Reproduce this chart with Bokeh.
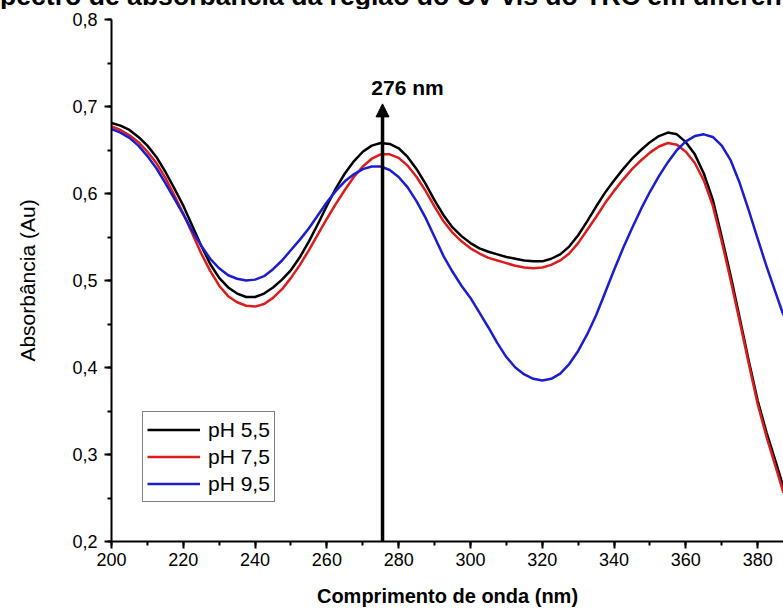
from bokeh.plotting import figure
from bokeh.layouts import column
from bokeh.models import (Range1d, SingleIntervalTicker, CustomJSTickFormatter, Label,
                          Arrow, NormalHead, Legend, LegendItem, Div)
from bokeh.embed import file_html
from bokeh.resources import INLINE

# ---- data ----
wavelength = [200, 202.5, 205, 207.5, 210, 212.5, 215, 217.5, 220, 222.5, 225, 227.5,
              230, 232.5, 235, 237.5, 240, 242.5, 245, 247.5, 250, 252.5, 255, 257.5,
              260, 262.5, 265, 267.5, 270, 272.5, 275, 277.5, 280, 282.5, 285, 287.5,
              290, 292.5, 295, 297.5, 300, 302.5, 305, 307.5, 310, 312.5, 315, 317.5,
              320, 322.5, 325, 327.5, 330, 332.5, 335, 337.5, 340, 342.5, 345, 347.5,
              350, 352.5, 355, 357.5, 360, 362.5, 365, 367.5, 370, 372.5, 375, 377.5,
              380, 382.5, 385, 387.2]

abs_ph55 = [0.681, 0.678, 0.673, 0.665, 0.655, 0.642, 0.625, 0.606, 0.586, 0.563, 0.540, 0.519,
            0.503, 0.492, 0.485, 0.481, 0.481, 0.485, 0.492, 0.501, 0.512, 0.527, 0.545, 0.565,
            0.586, 0.606, 0.623, 0.637, 0.648, 0.655, 0.658, 0.657, 0.652, 0.642, 0.628, 0.611,
            0.592, 0.575, 0.561, 0.551, 0.543, 0.537, 0.533, 0.530, 0.527, 0.525, 0.523, 0.522,
            0.522, 0.525, 0.530, 0.539, 0.552, 0.568, 0.585, 0.601, 0.615, 0.628, 0.640, 0.650,
            0.659, 0.666, 0.670, 0.668, 0.659, 0.645, 0.623, 0.593, 0.550, 0.505, 0.457, 0.408,
            0.362, 0.325, 0.292, 0.262]

abs_ph75 = [0.677, 0.673, 0.667, 0.659, 0.648, 0.635, 0.618, 0.598, 0.577, 0.554, 0.531, 0.511,
            0.494, 0.482, 0.475, 0.471, 0.470, 0.473, 0.480, 0.490, 0.503, 0.518, 0.535, 0.553,
            0.571, 0.588, 0.604, 0.619, 0.631, 0.640, 0.645, 0.645, 0.641, 0.632, 0.619, 0.603,
            0.585, 0.568, 0.555, 0.545, 0.537, 0.531, 0.526, 0.523, 0.520, 0.517, 0.515, 0.514,
            0.515, 0.518, 0.523, 0.531, 0.543, 0.558, 0.573, 0.589, 0.603, 0.616, 0.628, 0.638,
            0.647, 0.654, 0.658, 0.656, 0.648, 0.635, 0.615, 0.586, 0.545, 0.500, 0.453, 0.405,
            0.358, 0.320, 0.286, 0.256]

abs_ph95 = [0.674, 0.670, 0.664, 0.655, 0.643, 0.629, 0.612, 0.594, 0.576, 0.557, 0.540, 0.525,
            0.514, 0.506, 0.502, 0.500, 0.501, 0.505, 0.513, 0.523, 0.535, 0.547, 0.560, 0.575,
            0.590, 0.603, 0.614, 0.622, 0.628, 0.631, 0.631, 0.627, 0.619, 0.607, 0.591, 0.572,
            0.550, 0.528, 0.510, 0.494, 0.480, 0.463, 0.446, 0.428, 0.412, 0.400, 0.392, 0.387,
            0.385, 0.387, 0.393, 0.404, 0.419, 0.438, 0.460, 0.486, 0.512, 0.537, 0.560, 0.582,
            0.602, 0.620, 0.636, 0.650, 0.660, 0.666, 0.668, 0.665, 0.655, 0.638, 0.612, 0.581,
            0.548, 0.516, 0.486, 0.460]

series_labels = ["pH 5,5", "pH 7,5", "pH 9,5"]
series_colors = ["#000000", "#dd1c1c", "#1c1cd2"]

title_text = "pectro de absorbância da região do UV-vis do TRC em diferen"
x_title = "Comprimento de onda (nm)"
y_title = "Absorbância (Au)"
peak_nm = 276
arrow_x = 275.5

FONT = "Liberation Sans"

# title strip: as in the reference, only the lower part of the title is visible
title_div = Div(
    text=('<div style="font-family:\'Liberation Sans\';font-weight:bold;font-size:26.6px;'
          'line-height:26px;white-space:nowrap;position:relative;top:-17px;left:0px;'
          'color:#000;">' + title_text + '</div>'),
    width=783, height=9, styles={"overflow": "hidden", "margin": "0", "padding": "0"})

p = figure(width=783, height=602, output_backend="svg", toolbar_location=None,
           x_range=Range1d(200, 387.2), y_range=Range1d(0.2, 0.8),
           min_border_left=111, min_border_right=0, min_border_top=10,
           min_border_bottom=70)
p.grid.visible = False
p.outline_line_color = None
p.background_fill_color = "white"
p.border_fill_color = "white"

renderers = []
for ys, c in zip([abs_ph55, abs_ph75, abs_ph95], series_colors):
    r = p.line(wavelength, ys, line_color=c, line_width=2.5, line_join="round")
    renderers.append(r)

# axes
xa = p.xaxis[0]
xa.ticker = SingleIntervalTicker(interval=20, num_minor_ticks=2)
ya = p.yaxis[0]
ya.ticker = SingleIntervalTicker(interval=0.1, num_minor_ticks=2)
ya.formatter = CustomJSTickFormatter(code="return tick.toFixed(1).replace('.', ',');")

for ax in (xa, ya):
    ax.axis_line_width = 2
    ax.axis_line_color = "black"
    ax.major_tick_line_width = 2
    ax.minor_tick_line_width = 2
    ax.major_tick_in = 0
    ax.major_tick_out = 7
    ax.minor_tick_in = 0
    ax.minor_tick_out = 4
    ax.major_label_text_font = FONT
    ax.major_label_text_font_size = "18px"
    ax.major_label_text_color = "black"
    ax.axis_label_text_font = FONT
    ax.axis_label_text_color = "black"

xa.axis_label = x_title
xa.axis_label_text_font_style = "bold"
xa.axis_label_text_font_size = "20px"
xa.major_label_standoff = 4
xa.axis_label_standoff = 16

ya.axis_label = y_title
ya.axis_label_text_font_style = "normal"
ya.axis_label_text_font_size = "21px"
ya.major_label_standoff = 7
ya.axis_label_standoff = 30

# arrow and annotation
p.add_layout(Arrow(x_start=arrow_x, y_start=0.195, x_end=arrow_x, y_end=0.703,
                   line_width=3.5, line_color="black",
                   end=NormalHead(size=13, fill_color="black", line_color="black", line_width=1)))
p.add_layout(Label(x=arrow_x, y=0.722, x_offset=25, text=f"{peak_nm} nm",
                   text_align="center", text_baseline="alphabetic",
                   text_font=FONT, text_font_style="bold", text_font_size="21px",
                   text_color="black"))

legend = Legend(items=[LegendItem(label=l, renderers=[r]) for l, r in zip(series_labels, renderers)],
                location=(31, 39), glyph_width=53, glyph_height=27, label_height=27,
                spacing=0, padding=4, margin=0, label_standoff=8,
                label_text_font=FONT, label_text_font_size="21px", label_text_color="black",
                border_line_color="black", border_line_width=1,
                background_fill_color="white", background_fill_alpha=1)
p.add_layout(legend)

layout = column(title_div, p, spacing=0)
open("out.html", "w").write(file_html(layout, INLINE))
